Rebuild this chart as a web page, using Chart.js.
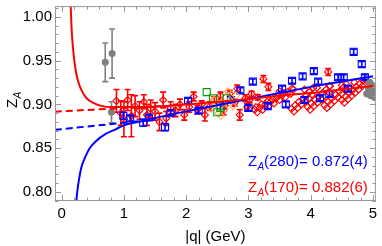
<!DOCTYPE html>
<html>
<head>
<meta charset="utf-8">
<script src="https://cdn.jsdelivr.net/npm/chart.js@4.4.1/dist/chart.umd.min.js"></script>
<style>
html, body { margin: 0; padding: 0; background: #fff; }
#wrap { width: 382px; height: 246px; }
</style>
</head>
<body>
<div id="wrap"><canvas id="chart" width="382" height="246"></canvas></div>
<script>
// fit curves: [|q|, Z_A]
const redFit = [[0.145,1.012],[0.16,0.986],[0.18,0.966],[0.2,0.952],[0.23,0.937],[0.27,0.925],[0.32,0.916],[0.4,0.907],[0.5,0.902],[0.65,0.898],[0.8,0.897],[1.0,0.897],[1.3,0.897],[1.6,0.898],[2.0,0.900],[2.5,0.903],[3.0,0.906],[3.5,0.910],[4.0,0.913],[4.5,0.917],[5.0,0.921]];
const redFitDash = [[-0.11,0.8916],[0.5,0.894],[1.0,0.8957],[1.6,0.898]];
const blueFit = [[0.235,0.789],[0.25,0.800],[0.28,0.815],[0.32,0.829],[0.38,0.840],[0.45,0.850],[0.55,0.858],[0.7,0.866],[0.85,0.871],[1.0,0.876],[1.3,0.881],[1.6,0.886],[2.0,0.892],[2.5,0.899],[3.0,0.906],[3.5,0.913],[4.0,0.920],[4.5,0.926],[5.0,0.932]];
const blueFitDash = [[-0.11,0.8709],[0.5,0.8754],[1.0,0.879],[1.5,0.8826]];

// lattice points: [|q|, Z_A, error]
const redPts = [
  [0.88,0.904,0.013],[0.95,0.890,0.014],[1.00,0.883,0.020],[1.06,0.905,0.012],[1.12,0.887,0.024],
  [1.18,0.898,0.012],[1.25,0.893,0.010],[1.32,0.903,0.008],[1.37,0.888,0.012],[1.43,0.895,0.010],
  [1.50,0.892,0.010],[1.57,0.880,0.010],[1.63,0.905,0.009],[1.68,0.884,0.008],[1.75,0.896,0.007],
  [1.83,0.893,0.007],[1.90,0.900,0.006],[1.97,0.888,0.006],[2.05,0.897,0.006],[2.12,0.909,0.005],
  [2.18,0.894,0.005],[2.30,0.888,0.007],[2.38,0.898,0.005],[2.45,0.905,0.004],[2.55,0.910,0.004],
  [2.62,0.899,0.004],[2.70,0.912,0.004],[2.82,0.918,0.004],[2.86,0.888,0.006],[2.95,0.907,0.004],
  [3.05,0.912,0.003],[3.15,0.908,0.003],[3.24,0.929,0.004],[3.32,0.920,0.004],[4.28,0.937,0.004],
  [2.25,0.900,0.004],[2.60,0.893,0.005],[2.78,0.902,0.004],[2.98,0.897,0.004],[3.02,0.905,0.003],
  [3.50,0.915,0],[3.70,0.918,0],[3.90,0.917,0],[4.10,0.919,0],[4.30,0.921,0],[4.50,0.922,0],[4.70,0.925,0],[4.90,0.927,0],
  [3.10,0.894,0],[3.18,0.896,0],[3.27,0.900,0],[3.36,0.903,0],[3.45,0.907,0],[3.54,0.910,0],[3.63,0.914,0],[3.72,0.917,0],
  [3.14,0.891,0],[3.23,0.894,0],[3.32,0.898,0],[3.41,0.901,0],[3.50,0.905,0],[3.59,0.908,0],[3.68,0.912,0],
  [3.12,0.897,0],[3.21,0.900,0],[3.30,0.903,0],[3.39,0.906,0],[3.48,0.910,0],[3.57,0.913,0],
  [3.69,0.895,0],[3.75,0.899,0],[3.81,0.903,0],[3.87,0.906,0],[3.93,0.910,0],[3.98,0.914,0],[4.04,0.919,0],
  [3.73,0.892,0],[3.79,0.896,0],[3.85,0.900,0],[3.91,0.903,0],[3.97,0.907,0],[4.02,0.911,0],
  [3.95,0.897,0],[4.01,0.901,0],[4.07,0.905,0],[4.13,0.909,0],[4.19,0.913,0],[4.25,0.917,0],[4.31,0.921,0],
  [3.99,0.894,0],[4.05,0.898,0],[4.11,0.902,0],[4.17,0.906,0],[4.23,0.910,0],[4.29,0.914,0],
  [4.22,0.899,0],[4.28,0.903,0],[4.34,0.907,0],[4.40,0.911,0],[4.46,0.915,0],[4.52,0.919,0],[4.57,0.923,0],
  [4.26,0.896,0],[4.32,0.900,0],[4.38,0.904,0],[4.44,0.908,0],[4.50,0.912,0],[4.56,0.916,0],
  [4.50,0.905,0],[4.56,0.909,0],[4.62,0.913,0],[4.67,0.916,0],[4.73,0.920,0],[4.79,0.924,0],[4.84,0.927,0],
  [4.54,0.902,0],[4.60,0.906,0],[4.66,0.910,0],[4.71,0.913,0],[4.77,0.917,0],[4.83,0.921,0]
];
const bluePts = [
  [0.99,0.887,0.004],[1.10,0.884,0.003],[1.31,0.879,0.004],[1.40,0.885,0.003],[1.66,0.874,0.004],
  [1.75,0.890,0.003],[2.03,0.904,0.003],[2.20,0.893,0.003],[2.55,0.898,0.003],[2.72,0.905,0.003],
  [2.87,0.916,0.003],[3.07,0.926,0.003],[3.31,0.898,0.003],[3.54,0.918,0.003],[3.70,0.927,0.003],
  [3.87,0.932,0.003],[4.05,0.938,0.003],[4.12,0.926,0.003],[4.15,0.907,0.003],[4.44,0.931,0.003],
  [4.53,0.931,0.003],[4.69,0.960,0.003],[4.82,0.946,0.003],[4.87,0.931,0.003],[3.00,0.896,0.003],
  [3.60,0.900,0.003],[3.90,0.905,0.003],[4.30,0.912,0.003],[4.60,0.918,0.003]
];
const greenPts = [[2.33,0.914,0],[2.43,0.907,0],[2.50,0.891,0],[2.55,0.896,0],[2.65,0.907,0]];
const orangePts = [[2.40,0.895,0],[2.45,0.905,0],[2.47,0.900,0],[2.52,0.890,0],[2.56,0.887,0],[2.58,0.903,0],[2.62,0.895,0],[2.67,0.915,0],[2.70,0.905,0],[2.75,0.898,0],[2.80,0.910,0]];
const grayPts = [[0.70,0.948,0.022],[0.81,0.958,0.028],[0.80,0.891,0.012],[4.90,0.912,0],[4.93,0.918,0],[4.96,0.910,0],[4.98,0.922,0],[5.00,0.915,0],[5.02,0.908,0],[4.95,0.925,0]];

const xTicks = [0, 1, 2, 3, 4, 5];
const yTicks = [0.80, 0.85, 0.90, 0.95, 1.00];
const fitLabels = [['280', '0.872(4)'], ['170', '0.882(6)']];

const RED = '#ff0000', BLUE = '#0000ff', GRAY = '#808080', GREEN = '#00a000', ORANGE = '#ffb060';
const FONT = '"Liberation Sans", Arial, sans-serif';

function xy(arr) { return arr.map(p => ({ x: p[0], y: p[1] })); }
function errs(arr) { return arr.map(p => p[2]); }

function curve(arr, color, dash) {
  return { type: 'line', data: xy(arr), borderColor: color, borderWidth: 2, borderDash: dash ? [7, 4] : [],
           pointRadius: 0, fill: false, tension: 0.4, cubicInterpolationMode: 'monotone' };
}
function points(arr, color, style, radius, filled) {
  return { type: 'scatter', data: xy(arr), errors: errs(arr), borderColor: color,
           backgroundColor: filled ? color : 'rgba(0,0,0,0)', pointStyle: style, pointRadius: radius,
           pointBorderWidth: 1.1, pointHoverRadius: radius };
}

const errorBars = {
  id: 'errorBars',
  afterDatasetDraw(chart, args) {
    const ds = chart.data.datasets[args.index];
    if (!ds.errors) return;
    const sx = chart.scales.x, sy = chart.scales.y, ctx = chart.ctx, a = chart.chartArea;
    ctx.save();
    ctx.beginPath(); ctx.rect(a.left, a.top, a.right - a.left, a.bottom - a.top); ctx.clip();
    ctx.strokeStyle = ds.borderColor; ctx.lineWidth = 1.6;
    ds.data.forEach((p, i) => {
      const e = ds.errors[i];
      if (!e) return;
      const px = sx.getPixelForValue(p.x);
      const y1 = sy.getPixelForValue(p.y + e), y2 = sy.getPixelForValue(p.y - e);
      ctx.beginPath();
      ctx.moveTo(px, y1); ctx.lineTo(px, y2);
      ctx.moveTo(px - 3, y1); ctx.lineTo(px + 3, y1);
      ctx.moveTo(px - 3, y2); ctx.lineTo(px + 3, y2);
      ctx.stroke();
    });
    ctx.restore();
  }
};

// Mathematica style frame: ticks on all four sides, pointing in, labels drawn here too
const frame = {
  id: 'frame',
  afterDraw(chart) {
    const sx = chart.scales.x, sy = chart.scales.y, ctx = chart.ctx, a = chart.chartArea;
    ctx.save();
    ctx.strokeStyle = '#999999'; ctx.lineWidth = 1;
    ctx.strokeRect(a.left + 0.5, a.top + 0.5, a.right - a.left - 1, a.bottom - a.top - 1);
    ctx.beginPath();
    for (let i = 0; i <= 25; i++) {
      const v = i * 0.2, px = Math.round(sx.getPixelForValue(v)) + 0.5, len = i % 5 === 0 ? 6 : 3.5;
      ctx.moveTo(px, a.bottom); ctx.lineTo(px, a.bottom - len);
      ctx.moveTo(px, a.top); ctx.lineTo(px, a.top + len);
    }
    for (let i = 79; i <= 101; i++) {
      const v = i / 100, py = Math.round(sy.getPixelForValue(v)) + 0.5, len = i % 5 === 0 ? 6 : 3.5;
      ctx.moveTo(a.left, py); ctx.lineTo(a.left + len, py);
      ctx.moveTo(a.right, py); ctx.lineTo(a.right - len, py);
    }
    ctx.stroke();

    ctx.fillStyle = '#000';
    ctx.font = '15px ' + FONT;
    ctx.textBaseline = 'middle';
    ctx.textAlign = 'center';
    xTicks.forEach(v => ctx.fillText(String(v), sx.getPixelForValue(v), 214));
    ctx.textAlign = 'right';
    yTicks.forEach(v => ctx.fillText(v.toFixed(2), a.left - 3, sy.getPixelForValue(v)));

    // axis titles
    ctx.textBaseline = 'alphabetic';
    ctx.textAlign = 'center';
    ctx.fillText('|q| (GeV)', (a.left + a.right) / 2, 241);
    ctx.save();
    ctx.translate(17, 108);
    ctx.rotate(-Math.PI / 2);
    ctx.textAlign = 'left';
    ctx.fillText('Z', 0, 0);
    ctx.font = 'italic 10px ' + FONT;
    ctx.fillText('A', 9.5, 4);
    ctx.restore();

    // fit results
    const colors = [BLUE, RED], rows = [166, 192];
    fitLabels.forEach((f, i) => {
      ctx.fillStyle = colors[i];
      ctx.textAlign = 'left';
      ctx.font = '15px ' + FONT;
      ctx.fillText('Z', 248, rows[i]);
      ctx.font = 'italic 10px ' + FONT;
      ctx.fillText('A', 257.5, rows[i] + 4);
      ctx.font = '15px ' + FONT;
      ctx.fillText('(' + f[0] + ')= ' + f[1], 264, rows[i]);
    });
    ctx.restore();
  }
};

new Chart(document.getElementById('chart'), {
  data: {
    datasets: [
      curve(redFit, RED, false),
      curve(blueFit, BLUE, false),
      curve(redFitDash, RED, true),
      curve(blueFitDash, BLUE, true),
      points(grayPts, GRAY, 'circle', 3, true),
      points(greenPts, GREEN, 'rect', 5, false),
      points(orangePts, ORANGE, 'rectRot', 3.5, false),
      points(bluePts, BLUE, 'rect', 5, false),
      points(redPts, RED, 'rectRot', 3.5, false)
    ]
  },
  options: {
    responsive: false,
    animation: false,
    devicePixelRatio: 1,
    layout: { padding: { top: 0, right: 4, bottom: 0, left: 0 } },
    plugins: { legend: { display: false }, tooltip: { enabled: false } },
    scales: {
      x: {
        type: 'linear', min: -0.107, max: 5.047,
        grid: { display: false }, border: { display: false },
        ticks: { display: false },
        afterFit: s => { s.height = 45; }
      },
      y: {
        type: 'linear', min: 0.7897, max: 1.0122,
        grid: { display: false }, border: { display: false },
        ticks: { display: false },
        afterFit: s => { s.width = 55; }
      }
    }
  },
  plugins: [errorBars, frame]
});
</script>
</body>
</html>
